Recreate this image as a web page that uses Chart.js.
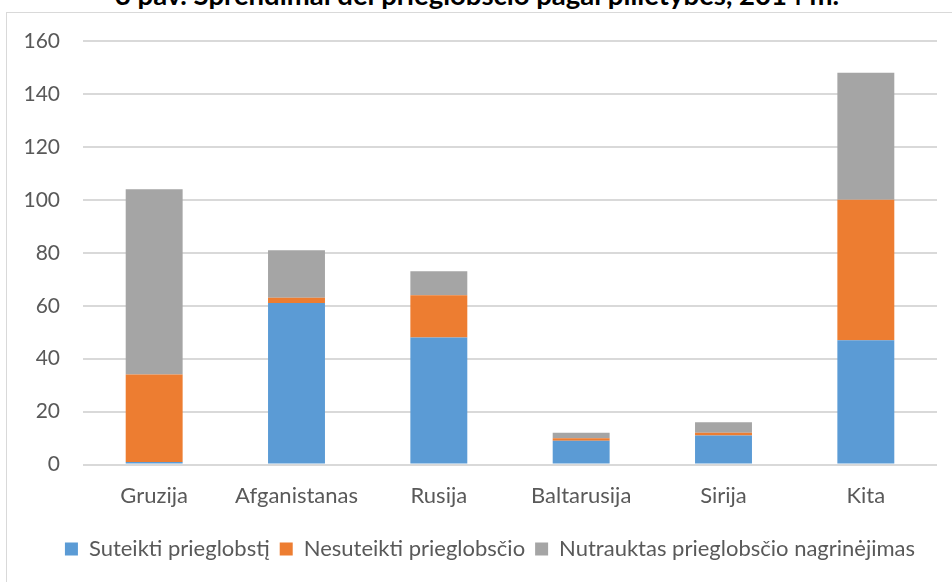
<!DOCTYPE html>
<html>
<head>
<meta charset="utf-8">
<script src="https://cdn.jsdelivr.net/npm/chart.js@4/dist/chart.umd.min.js"></script>
<style>
    html, body { margin: 0; padding: 0; background: #fff; overflow: hidden; }
    body { width: 952px; height: 582px; position: relative; }
    .caption {
        position: absolute; left: 0; top: -19px; width: 954px;
        text-align: center; font: bold 27.5px/27px Lato, sans-serif; color: #000;
        white-space: nowrap;
    }
    .frame {
        position: absolute; left: 6px; top: 12px; width: 1000px; height: 620px;
        border: 1px solid #d9d9d9; box-sizing: border-box;
    }
    .wrap { position: absolute; left: 0; top: 0; width: 980px; height: 582px; }
</style>
</head>
<body>
<div class="caption">3 pav. Sprendimai dėl prieglobsčio pagal pilietybes, 2014 m.</div>
<div class="frame"></div>
<div class="wrap"><canvas id="barChart"></canvas></div>
<script>
// ── data
const CATEGORIES = ['Gruzija', 'Afganistanas', 'Rusija', 'Baltarusija', 'Sirija', 'Kita'];
const SERIES_NAMES = ['Suteikti prieglobstį', 'Nesuteikti prieglobsčio', 'Nutrauktas prieglobsčio nagrinėjimas'];
const GRANTED   = [1, 61, 48, 9, 11, 47];
const REFUSED   = [33, 2, 16, 1, 1, 53];
const STOPPED   = [70, 18, 9, 2, 4, 48];
const Y_TICKS   = [0, 20, 40, 60, 80, 100, 120, 140, 160];

const COLORS = ['#5b9bd5', '#ed7d31', '#a5a5a5'];
const LEGEND_SHIFT = 21.5;   // Excel centres the legend on the whole frame, not the plot

Chart.defaults.font.family = "Lato, 'Open Sans', sans-serif";
Chart.defaults.font.size   = 22;
Chart.defaults.color       = '#595959';

function makeSet(i, values) {
    return {
        label: SERIES_NAMES[i],
        data: values,
        backgroundColor: COLORS[i],
        borderWidth: 0,
        barPercentage: 0.4,
        categoryPercentage: 1.0
    };
}

var shiftLegend = {
    id: 'shiftLegend',
    afterLayout: function(chart) {
        if (!chart.legend) return;
        chart.legend.left  += LEGEND_SHIFT;
        chart.legend.right += LEGEND_SHIFT;
    }
};

(function() {
    var el = document.getElementById('barChart');
    new Chart(el.getContext('2d'), {
        type: 'bar',
        data: {
            labels: CATEGORIES,
            datasets: [makeSet(0, GRANTED), makeSet(1, REFUSED), makeSet(2, STOPPED)]
        },
        options: {
            responsive: true,
            maintainAspectRatio: false,
            animation: false,
            layout: { padding: { left: 0, right: 43, top: 41, bottom: 12 } },
            plugins: {
                title: { display: false },
                tooltip: { enabled: false },
                legend: {
                    position: 'bottom',
                    labels: { boxWidth: 13, boxHeight: 13, padding: 10, color: '#595959' }
                }
            },
            scales: {
                x: {
                    stacked: true,
                    grid: { display: false, drawTicks: false },
                    border: { display: false },
                    ticks: { padding: 18.5, maxRotation: 0 }
                },
                y: {
                    stacked: true,
                    min: 0,
                    max: Y_TICKS[Y_TICKS.length - 1],
                    afterBuildTicks: function(s) { s.ticks = Y_TICKS.map(function(v){ return { value: v }; }); },
                    afterFit: function(s) { s.width = 83; },
                    grid: { color: '#d9d9d9', lineWidth: 2, drawTicks: false },
                    border: { display: false },
                    ticks: { padding: 23, font: { size: 21 } }
                }
            }
        },
        plugins: [shiftLegend]
    });
})();
</script>
</body>
</html>
